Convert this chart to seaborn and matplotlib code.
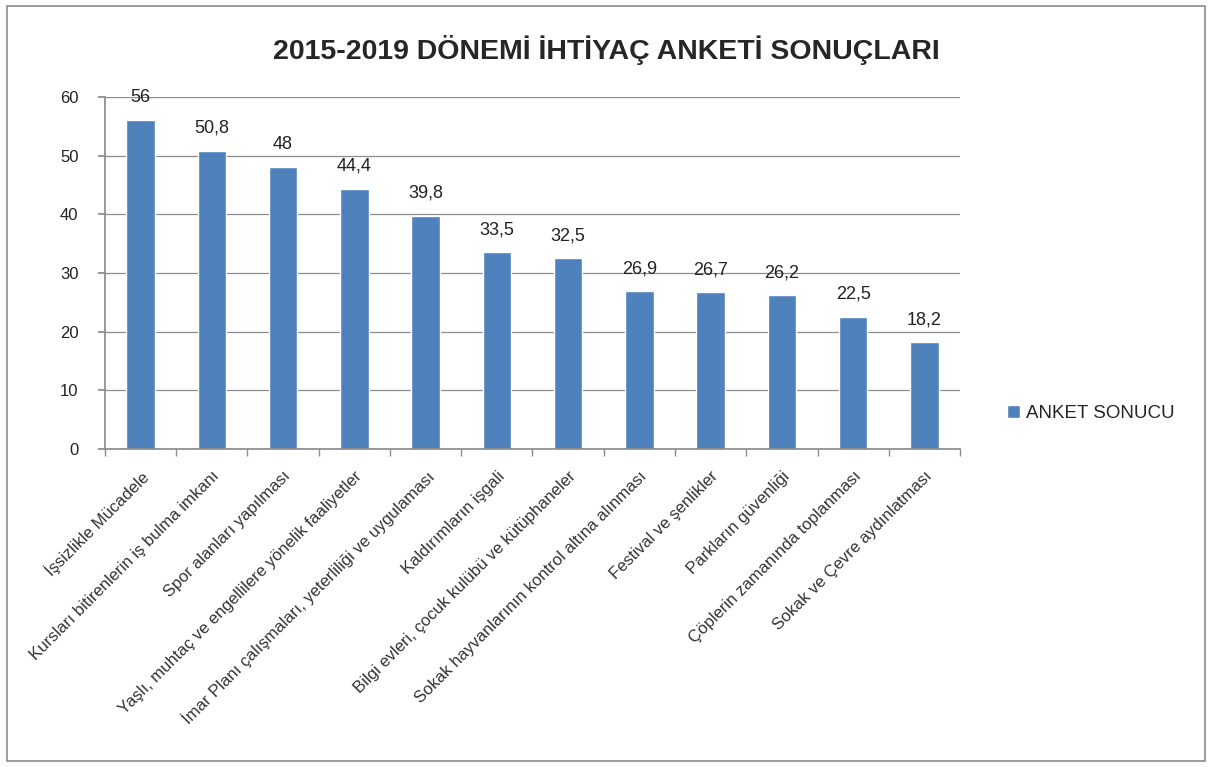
import matplotlib

matplotlib.use("Agg")
import matplotlib.pyplot as plt
import pandas as pd
import seaborn as sns

categories = [
    "İşsizlikle Mücadele",
    "Kursları bitirenlerin iş bulma imkanı",
    "Spor alanları yapılması",
    "Yaşlı, muhtaç ve engellilere yönelik faaliyetler",
    "İmar Planı çalışmaları, yeterliliği ve uygulaması",
    "Kaldırımların işgali",
    "Bilgi evleri, çocuk kulübü ve kütüphaneler",
    "Sokak hayvanlarının kontrol altına alınması",
    "Festival ve şenlikler",
    "Parkların güvenliği",
    "Çöplerin zamanında toplanması",
    "Sokak ve Çevre aydınlatması",
]
values = [56, 50.8, 48, 44.4, 39.8, 33.5, 32.5, 26.9, 26.7, 26.2, 22.5, 18.2]
value_labels = ["56", "50,8", "48", "44,4", "39,8", "33,5", "32,5", "26,9", "26,7", "26,2", "22,5", "18,2"]
y_ticks = [0, 10, 20, 30, 40, 50, 60]

series_name = "ANKET SONUCU"
title = "2015-2019 DÖNEMİ İHTİYAÇ ANKETİ SONUÇLARI"
bar_color = "#4F81BD"

sns.set_theme(style="white")
plt.rcParams["font.family"] = ["Liberation Sans", "DejaVu Sans"]

df = pd.DataFrame({"kategori": categories, "deger": values, "seri": series_name})

fig = plt.figure(figsize=(12.12, 7.67), dpi=100)
ax = fig.add_axes([0.0866, 0.4146, 0.7055, 0.4589])

sns.barplot(data=df, x="kategori", y="deger", hue="seri", palette=[bar_color],
            width=0.4, ax=ax, legend=True, saturation=1)

ax.set_ylim(0, 60)
ax.set_yticks(y_ticks)
ax.set_yticklabels([str(t) for t in y_ticks], fontsize=12, color="#222222")
ax.set_xlim(-0.5, len(categories) - 0.5)
ax.yaxis.grid(True, color="#8c8c8c", linewidth=0.9)
ax.set_axisbelow(True)
for side in ["top", "right"]:
    ax.spines[side].set_visible(False)
ax.spines["left"].set_color("#8c8c8c")
ax.spines["bottom"].set_color("#8c8c8c")
ax.tick_params(axis="y", left=True, length=5, color="#8c8c8c", pad=14)

# category tick marks sit on the boundaries, labels under the bar centers
ax.set_xticks(range(len(categories)))
ax.set_xticklabels(categories, rotation=45, ha="right", rotation_mode="anchor",
                   fontsize=12, color="#333333")
ax.tick_params(axis="x", bottom=False, pad=8)
ax.set_xticks([i - 0.5 for i in range(len(categories) + 1)], minor=True)
ax.tick_params(axis="x", which="minor", bottom=True, length=5, color="#8c8c8c")
ax.set_xlabel("")
ax.set_ylabel("")

for i, (v, lab) in enumerate(zip(values, value_labels)):
    ax.text(i, v + 2.4, lab, ha="center", va="bottom", fontsize=13, color="#222222")

ax.legend(loc="center left", bbox_to_anchor=(1.035, 0.1), frameon=False,
          fontsize=13.5, handlelength=0.7, handleheight=0.7, handletextpad=0.3)

fig.text(0.5, 0.935, title, ha="center", va="center", fontsize=20.5,
         fontweight="bold", family=["Liberation Sans Narrow", "Liberation Sans", "DejaVu Sans"])

border = plt.Rectangle((0.006, 0.008), 0.988, 0.984, transform=fig.transFigure,
                       fill=False, edgecolor="#8c8c8c", linewidth=1.2)
fig.patches.append(border)

fig.savefig("out.png", dpi=100, facecolor="white")
